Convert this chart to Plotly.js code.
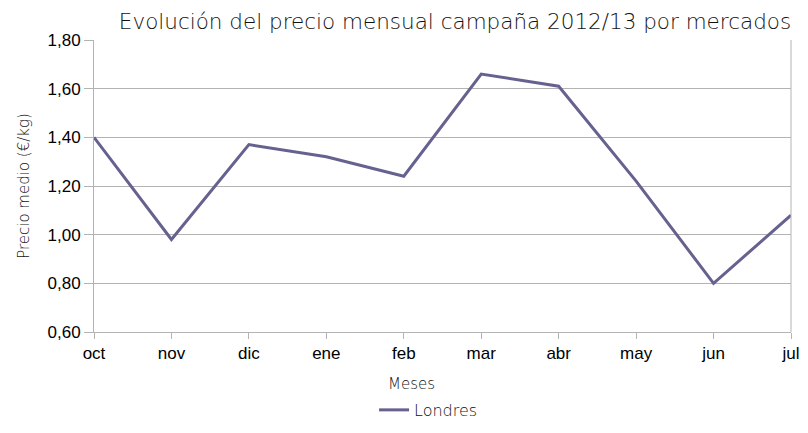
<!DOCTYPE html>
<html><head><meta charset="utf-8">
<script src="https://cdn.plot.ly/plotly-3.0.1.min.js"></script>
<style>body{margin:0;background:#fff}#c{width:808px;height:433px}</style>
</head><body><div id="c"></div>
<script>
const months = ["oct","nov","dic","ene","feb","mar","abr","may","jun","jul"];
const londres = [1.40, 0.98, 1.37, 1.32, 1.24, 1.66, 1.61, 1.22, 0.80, 1.08];
const yTicks = [0.6, 0.8, 1.0, 1.2, 1.4, 1.6, 1.8];

const lightFont = "DejaVu Sans, sans-serif";
const trace = {
  x: months, y: londres, type: "scatter", mode: "lines", name: "Londres",
  line: {color: "#65628f", width: 3}
};
const layout = {
  width: 808, height: 433,
  margin: {l: 94, r: 17, t: 40, b: 101, autoexpand: false},
  paper_bgcolor: "#fff", plot_bgcolor: "#fff",
  separators: ",.",
  font: {family: "Liberation Sans, Arial, sans-serif", size: 17, color: "#000"},
  title: {text: "Evolución del precio mensual campaña 2012/13 por mercados",
    font: {family: lightFont, size: 21.5, weight: 300, color: "#111"},
    x: 0.518, xanchor: "center", y: 0.95, yanchor: "middle", xref: "paper"},
  xaxis: {
    type: "category", range: [0, 9],
    showgrid: false, ticks: "outside", ticklen: 6, tickcolor: "#b3b3b3",
    showline: true, linecolor: "#b3b3b3", linewidth: 1,
    tickfont: {size: 17}
  },
  yaxis: {
    range: [0.6, 1.8], tickvals: yTicks, tickformat: ".2f",
    showgrid: true, gridcolor: "#b3b3b3", gridwidth: 1,
    ticks: "outside", ticklen: 9, tickcolor: "#b3b3b3",
    showline: true, linecolor: "#b3b3b3", mirror: false, zeroline: false,
    tickfont: {size: 17},
    title: {text: "Precio medio (€/kg)", font: {family: lightFont, size: 15, weight: 300, color: "#111"}, standoff: 14}
  },
  annotations: [{text: "Meses", xref: "paper", yref: "paper", x: 0.456, y: -0.178,
    xanchor: "center", yanchor: "middle", showarrow: false,
    font: {family: lightFont, size: 15, weight: 300, color: "#111"}}],
  showlegend: true,
  legend: {orientation: "h", x: 0.48, xanchor: "center", y: -0.267, yanchor: "middle",
    font: {family: lightFont, size: 16, weight: 300, color: "#111"}},
  shapes: [{type: "line", xref: "paper", yref: "paper", x0: 1, x1: 1, y0: 0, y1: 1,
    line: {color: "#b3b3b3", width: 1}}]
};
Plotly.newPlot("c", [trace], layout, {displayModeBar: false, staticPlot: true});
</script></body></html>
